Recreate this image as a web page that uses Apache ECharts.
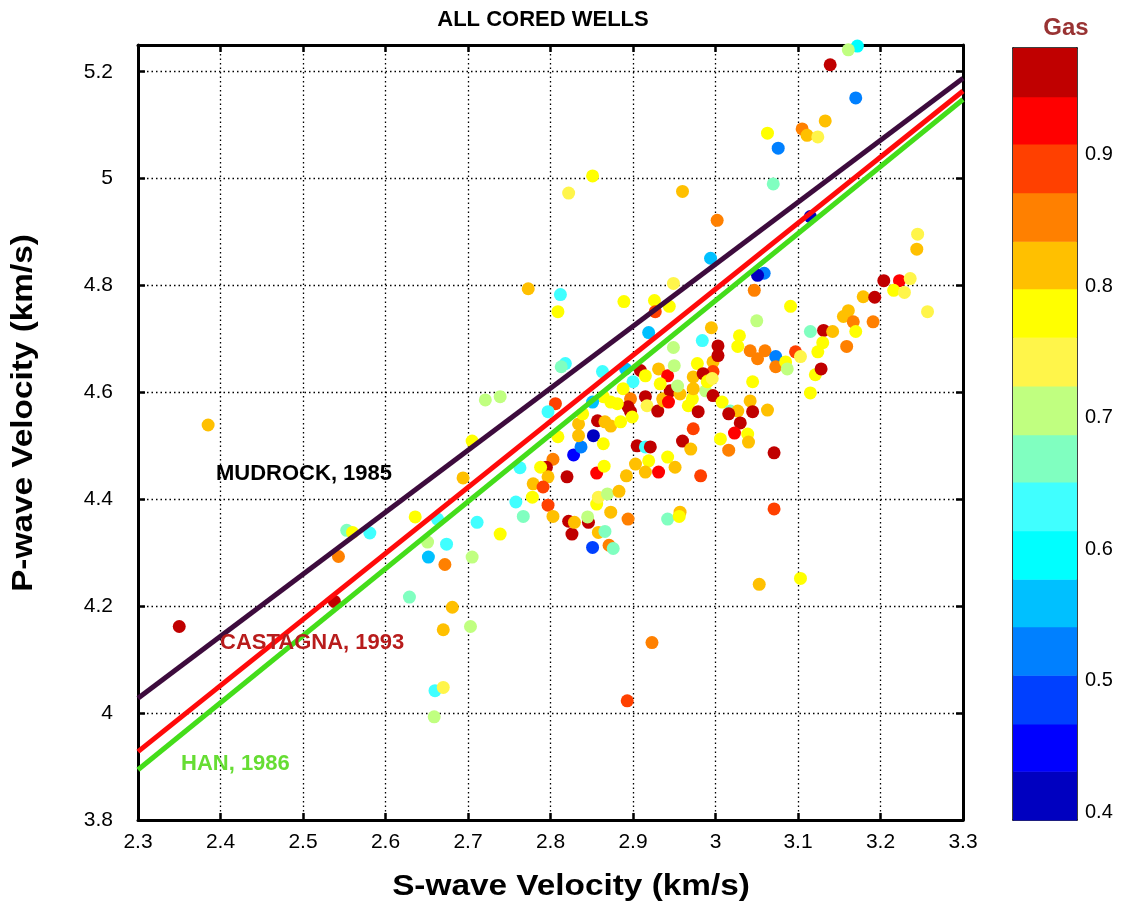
<!DOCTYPE html>
<html><head><meta charset="utf-8">
<script src="https://cdn.jsdelivr.net/npm/echarts@6/dist/echarts.min.js"></script>
<style>html,body{margin:0;padding:0;background:#fff}#c{width:1128px;height:902px}</style>
</head><body><div id="c"></div>
<script>
// S-wave velocity (km/s)
const sVel = [2.385,2.350,2.553,2.560,2.581,2.543,2.538,2.629,2.636,2.651,2.652,2.663,2.672,2.674,2.681,2.670,2.703,2.705,2.739,2.660,2.670,2.659,2.923,2.893,3.053,3.103,
2.721,2.739,2.705,2.694,2.763,2.758,2.767,2.711,2.806,2.797,2.809,2.803,2.795,2.788,2.797,2.779,2.791,2.778,2.797,2.803,2.826,2.858,2.866,2.851,2.871,2.876,2.822,2.829,2.846,2.845,2.873,2.856,2.858,2.869,2.883,2.894,2.820,2.856,2.865,2.892,2.828,2.837,2.852,2.834,2.864,2.905,2.915,2.921,2.919,2.903,2.915,2.931,2.942,2.951,2.960,2.970,2.973,2.982,2.942,2.957,2.956,
2.773,2.812,2.809,2.889,2.949,2.926,2.944,2.927,2.994,2.919,2.995,2.984,2.949,3.003,2.818,2.813,2.863,2.891,2.900,2.909,2.915,2.931,2.942,2.950,2.978,2.997,2.997,3.003,2.973,2.985,2.991,2.888,2.915,2.936,2.945,2.957,2.972,2.988,2.997,2.864,2.873,2.897,2.894,2.917,2.930,2.967,2.979,3.008,2.851,2.881,2.897,2.899,2.857,2.866,2.873,2.885,2.834,2.839,2.937,2.943,2.954,2.933,2.990,
3.018,3.027,3.016,3.042,3.063,3.045,3.030,3.023,3.039,3.040,3.006,3.016,3.071,3.071,3.045,3.115,3.121,3.047,3.091,3.050,3.029,3.027,3.042,3.051,3.060,3.073,3.073,3.085,3.087,3.097,3.103,3.115,3.131,3.142,3.130,3.124,3.128,3.059,3.051,3.179,3.193,3.161,3.155,3.167,3.170,3.191,3.159,3.204,3.223,3.236,3.216,3.229,3.257,3.245,3.244,
3.172,3.161,3.139,3.170,3.133,3.105,3.111,3.124,3.063,3.076,3.070,2.960,3.002,2.851,2.822,3.115,2.996,2.973];
// P-wave velocity (km/s)
const pVel = [4.539,4.162,4.342,4.338,4.337,4.293,4.209,4.217,4.367,4.320,4.292,4.363,4.278,4.316,4.198,4.156,4.162,4.292,4.335,4.042,4.048,3.993,4.132,4.023,4.241,4.252,
4.586,4.592,4.509,4.440,4.459,4.395,4.368,4.357,4.579,4.564,4.517,4.475,4.460,4.460,4.442,4.429,4.423,4.404,4.389,4.368,4.335,4.338,4.340,4.310,4.314,4.308,4.359,4.357,4.357,4.367,4.376,4.391,4.404,4.410,4.415,4.363,4.442,4.449,4.462,4.444,4.483,4.498,4.519,4.519,4.504,4.500,4.498,4.498,4.472,4.466,4.451,4.451,4.479,4.460,4.509,4.494,4.532,4.444,4.363,4.376,4.368,
4.794,4.783,4.751,4.770,4.804,4.772,4.761,4.751,4.851,4.712,4.721,4.697,4.684,4.687,4.654,4.648,4.639,4.644,4.620,4.641,4.631,4.644,4.631,4.650,4.654,4.657,4.639,4.669,4.629,4.635,4.622,4.607,4.592,4.588,4.603,4.597,4.588,4.603,4.594,4.592,4.582,4.588,4.573,4.575,4.565,4.575,4.564,4.582,4.582,4.579,4.564,4.554,4.547,4.545,4.537,4.545,4.541,4.560,4.584,4.582,4.612,4.616,4.620,
4.565,4.565,4.560,4.584,4.567,4.564,4.543,4.524,4.522,4.507,4.513,4.492,4.487,4.382,4.620,4.599,4.633,4.791,4.761,4.734,4.706,4.686,4.678,4.663,4.678,4.667,4.648,4.657,4.644,4.676,4.667,4.714,4.716,4.714,4.693,4.676,4.644,4.823,4.819,4.779,4.778,4.753,4.742,4.732,4.714,4.732,4.686,4.809,4.809,4.813,4.791,4.787,4.751,4.896,4.868,
5.248,5.241,5.213,5.151,5.108,5.093,5.081,5.078,5.085,5.057,4.990,4.976,4.922,5.005,4.973,4.929,4.626,4.607];
// Gas saturation
const gas = [0.82,0.96,0.67,0.78,0.63,0.85,0.96,0.67,0.78,0.71,0.56,0.63,0.85,0.63,0.82,0.82,0.71,0.71,0.78,0.63,0.74,0.71,0.85,0.89,0.82,0.78,
0.71,0.71,0.78,0.82,0.63,0.63,0.67,0.63,0.89,0.63,0.78,0.85,0.96,0.78,0.82,0.82,0.89,0.78,0.89,0.82,0.96,0.82,0.67,0.49,0.85,0.67,0.96,0.82,0.96,0.71,0.82,0.78,0.74,0.71,0.82,0.85,0.96,0.93,0.78,0.82,0.45,0.52,0.41,0.82,0.78,0.96,0.63,0.96,0.78,0.82,0.82,0.93,0.78,0.82,0.96,0.82,0.89,0.89,0.67,0.82,0.78,
0.82,0.63,0.78,0.78,0.74,0.78,0.78,0.89,0.56,0.56,0.82,0.63,0.71,0.96,0.63,0.67,0.63,0.56,0.63,0.96,0.78,0.82,0.93,0.71,0.78,0.82,0.89,0.96,0.82,0.96,0.82,0.78,0.96,0.82,0.96,0.82,0.78,0.71,0.96,0.78,0.78,0.85,0.96,0.74,0.96,0.78,0.96,0.78,0.56,0.78,0.96,0.78,0.96,0.82,0.82,0.78,0.82,0.78,0.82,0.93,0.71,0.78,0.78,
0.67,0.82,0.96,0.82,0.82,0.96,0.96,0.93,0.78,0.82,0.78,0.85,0.96,0.89,0.78,0.78,0.78,0.85,0.78,0.71,0.78,0.78,0.85,0.85,0.85,0.52,0.85,0.78,0.71,0.89,0.74,0.67,0.96,0.82,0.78,0.78,0.96,0.52,0.41,0.82,0.96,0.82,0.82,0.85,0.78,0.85,0.85,0.96,0.93,0.74,0.78,0.74,0.74,0.74,0.82,
0.60,0.71,0.96,0.52,0.82,0.85,0.82,0.74,0.78,0.52,0.67,0.82,0.85,0.78,0.74,0.41,0.74,0.82];

// Trend lines (Vs endpoints and Vp at those endpoints)
const lineVs = [2.3, 3.3];
const mudrockVp = [4.028, 5.188];
const castagnaVp = [3.928, 5.164];
const hanVp = [3.894, 5.148];

// Colour scale
const gasEdges = [0.394,0.431,0.467,0.504,0.541,0.577,0.614,0.651,0.687,0.724,0.761,0.798,0.834,0.871,0.908,0.944,0.981];
const gasColors = ['#0000C0','#0000FF','#0040FF','#0080FF','#00C0FF','#00FFFF','#40FFFF','#80FFC0','#C0FF80','#FFF54A','#FFFF00','#FFC000','#FF8000','#FF4000','#FF0000','#C00000'];
const gasTicks = [0.4,0.5,0.6,0.7,0.8,0.9];
const yTicks = [3.8,4,4.2,4.4,4.6,4.8,5,5.2];

const FONT = 'Liberation Sans';
const chart = echarts.init(document.getElementById('c'), null, {renderer:'canvas'});

const pts = sVel.map((s,i)=>[s, pVel[i], gas[i]]);
const pieces = gasColors.map((c,i)=>({gte: gasEdges[i], lt: gasEdges[i+1], color: c}));
const bands = gasColors.map((c,i)=>[0, gasEdges[i], gasEdges[i+1], i]);
const lineData = arr => lineVs.map((v,i)=>[v, arr[i]]);

const dotted = {show:true, lineStyle:{color:'#000', type:[1.5,3], width:1.3}};
const lbl = {color:'#000', fontFamily:FONT, fontSize:21};
const lblBar = {color:'#000', fontFamily:FONT, fontSize:20};

chart.setOption({
  animation:false,
  backgroundColor:'#fff',
  grid:[
    {left:138, top:45, width:825, height:775},
    {left:1013, top:48, width:64, height:772}
  ],
  xAxis:[
    {gridIndex:0, type:'value', min:2.3, max:3.3, interval:0.1, position:'bottom',
     axisLine:{show:true, onZero:false, lineStyle:{color:'#000', width:3}},
     axisTick:{show:true, inside:true, length:7, lineStyle:{color:'#000', width:2.5}},
     axisLabel:Object.assign({margin:12}, lbl), splitLine:dotted},
    {gridIndex:0, type:'value', min:2.3, max:3.3, interval:0.1, position:'top',
     axisLine:{show:true, onZero:false, lineStyle:{color:'#000', width:3}},
     axisTick:{show:true, inside:true, length:7, lineStyle:{color:'#000', width:2.5}},
     axisLabel:{show:false}, splitLine:{show:false}},
    {gridIndex:1, type:'value', min:0, max:1, position:'bottom',
     axisLine:{show:true, onZero:false, lineStyle:{color:'#000', width:1.5}},
     axisTick:{show:false}, axisLabel:{show:false}, splitLine:{show:false}},
    {gridIndex:1, type:'value', min:0, max:1, position:'top',
     axisLine:{show:true, onZero:false, lineStyle:{color:'#000', width:1.5}},
     axisTick:{show:false}, axisLabel:{show:false}, splitLine:{show:false}}
  ],
  yAxis:[
    {gridIndex:0, type:'value', min:3.8, max:5.25, interval:0.2, position:'left',
     axisLine:{show:true, onZero:false, lineStyle:{color:'#000', width:3}},
     axisTick:{show:true, inside:true, length:7, lineStyle:{color:'#000', width:2.5}, customValues:yTicks},
     axisLabel:Object.assign({margin:25, customValues:yTicks}, lbl), splitLine:dotted},
    {gridIndex:0, type:'value', min:3.8, max:5.25, interval:0.2, position:'right',
     axisLine:{show:true, onZero:false, lineStyle:{color:'#000', width:3}},
     axisTick:{show:true, inside:true, length:7, lineStyle:{color:'#000', width:2.5}, customValues:yTicks},
     axisLabel:{show:false}, splitLine:{show:false}},
    {gridIndex:1, type:'value', min:0.394, max:0.981, position:'right',
     axisLine:{show:true, onZero:false, lineStyle:{color:'#000', width:1.5}},
     axisTick:{show:true, inside:true, length:6, lineStyle:{color:'#000', width:1.5}, customValues:gasTicks},
     axisLabel:Object.assign({margin:8, customValues:gasTicks}, lblBar), splitLine:{show:false}},
    {gridIndex:1, type:'value', min:0.394, max:0.981, position:'left',
     axisLine:{show:true, onZero:false, lineStyle:{color:'#000', width:1.5}},
     axisTick:{show:true, inside:true, length:6, lineStyle:{color:'#000', width:1.5}, customValues:gasTicks},
     axisLabel:{show:false}, splitLine:{show:false}}
  ],
  visualMap:{type:'piecewise', show:false, seriesIndex:0, dimension:2, pieces:pieces},
  series:[
    {type:'scatter', xAxisIndex:0, yAxisIndex:0, data:pts, symbol:'circle', symbolSize:13, z:2,
     itemStyle:{opacity:1}},
    {type:'line', xAxisIndex:0, yAxisIndex:0, data:lineData(mudrockVp), symbol:'none', z:4,
     lineStyle:{color:'#3D0B3D', width:5}},
    {type:'line', xAxisIndex:0, yAxisIndex:0, data:lineData(castagnaVp), symbol:'none', z:4,
     lineStyle:{color:'#FF0A0A', width:5}},
    {type:'line', xAxisIndex:0, yAxisIndex:0, data:lineData(hanVp), symbol:'none', z:4,
     lineStyle:{color:'#44DD1A', width:5}},
    {type:'custom', xAxisIndex:2, yAxisIndex:2, data:bands, encode:{x:0, y:[1,2]}, z:1,
     renderItem:function(params, api){
       const p0 = api.coord([0, api.value(1)]);
       const p1 = api.coord([1, api.value(2)]);
       return {type:'rect', shape:{x:p0[0], y:p1[1], width:p1[0]-p0[0], height:p0[1]-p1[1]+0.5},
               style:{fill:gasColors[api.value(3)]}};
     }}
  ],
  graphic:[
    {type:'text', x:543, y:20, style:{text:'ALL CORED WELLS', font:'bold 22px "'+FONT+'"', fill:'#000', textAlign:'center', textVerticalAlign:'middle'}},
    {type:'text', x:571, y:887, scaleX:1.15, style:{text:'S-wave Velocity (km/s)', font:'bold 29px "'+FONT+'"', fill:'#000', textAlign:'center', textVerticalAlign:'middle'}},
    {type:'text', x:24, y:413, rotation:Math.PI/2, scaleX:1.15, style:{text:'P-wave Velocity (km/s)', font:'bold 29px "'+FONT+'"', fill:'#000', textAlign:'center', textVerticalAlign:'middle'}},
    {type:'text', x:1066, y:28, style:{text:'Gas', font:'bold 24px "'+FONT+'"', fill:'#993333', textAlign:'center', textVerticalAlign:'middle'}},
    {type:'text', x:216, y:474, z:10, style:{text:'MUDROCK, 1985', font:'bold 22px "'+FONT+'"', fill:'#000', textAlign:'left', textVerticalAlign:'middle'}},
    {type:'text', x:220, y:643, z:10, style:{text:'CASTAGNA, 1993', font:'bold 22px "'+FONT+'"', fill:'#B81C1C', textAlign:'left', textVerticalAlign:'middle'}},
    {type:'text', x:181, y:764, z:10, style:{text:'HAN, 1986', font:'bold 22px "'+FONT+'"', fill:'#66DD33', textAlign:'left', textVerticalAlign:'middle'}}
  ]
});
</script></body></html>
